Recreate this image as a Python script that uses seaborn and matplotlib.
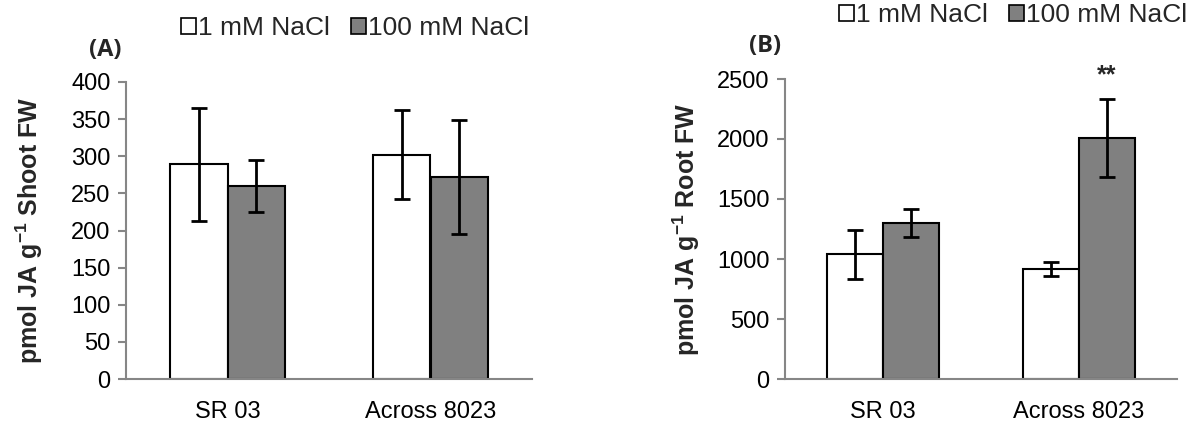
import numpy as np
import pandas as pd
import matplotlib
matplotlib.use("Agg")
import matplotlib.pyplot as plt
from matplotlib.patches import Patch
import seaborn as sns

categories = ["SR 03", "Across 8023"]
treatments = ["1 mM NaCl", "100 mM NaCl"]

shoot_1mM = [289, 302]
shoot_1mM_err = [76, 60]
shoot_100mM = [260, 272]
shoot_100mM_err = [35, 77]

root_1mM = [1040, 915]
root_1mM_err = [205, 60]
root_100mM = [1300, 2005]
root_100mM_err = [120, 325]

colors = ["#ffffff", "#808080"]
spine_col = "#868686"

sns.set_theme(style="white")
plt.rcParams["font.family"] = ["Liberation Sans", "DejaVu Sans"]
plt.rcParams["mathtext.fontset"] = "custom"
plt.rcParams["mathtext.rm"] = "Liberation Sans"
plt.rcParams["mathtext.bf"] = "Liberation Sans:bold"

fig = plt.figure(figsize=(11.93, 4.29), dpi=100)
axA = fig.add_axes([126/1193, 1-379/429, (532-126)/1193, (379-82)/429])
axB = fig.add_axes([785/1193, 1-379/429, (1177-785)/1193, (379-79)/429])


def make_df(v1, e1, v2, e2):
    rows = []
    for i, c in enumerate(categories):
        rows.append({"cat": c, "trt": treatments[0], "val": v1[i], "err": e1[i]})
        rows.append({"cat": c, "trt": treatments[1], "val": v2[i], "err": e2[i]})
    return pd.DataFrame(rows)


def draw(ax, df, ymax, ystep, ylabel, labelpad):
    sns.barplot(data=df, x="cat", y="val", hue="trt", order=categories,
                hue_order=treatments, palette=colors, width=0.57,
                edgecolor="black", linewidth=1.5, errorbar=None, ax=ax,
                legend=False, saturation=1)
    for j, t in enumerate(treatments):
        cont = ax.containers[j]
        sub = df[df.trt == t].set_index("cat").loc[categories]
        xs = [p.get_x() + p.get_width()/2 for p in cont.patches]
        ax.errorbar(xs, sub["val"].values, yerr=sub["err"].values, fmt="none",
                    ecolor="black", elinewidth=2, capsize=5.5, capthick=2, zorder=5)
    ax.set_xlim(-0.5, 1.5)
    ax.set_ylim(0, ymax)
    ax.set_yticks(np.arange(0, ymax + 1, ystep))
    ax.set_xticks([0, 1])
    ax.set_xticklabels(categories)
    ax.set_xticks([-0.5, 0.5, 1.5], minor=True)
    ax.tick_params(axis="x", which="major", length=0, labelsize=17, pad=16, colors="black")
    ax.tick_params(axis="x", which="minor", length=7, width=1.5, color=spine_col, direction="out")
    ax.tick_params(axis="y", which="major", length=6, width=1.5, color=spine_col,
                   direction="out", labelsize=17, pad=5, left=True, labelcolor="black")
    for s in ["top", "right"]:
        ax.spines[s].set_visible(False)
    for s in ["left", "bottom"]:
        ax.spines[s].set_color(spine_col)
        ax.spines[s].set_linewidth(1.5)
    ax.set_xlabel("")
    ax.set_ylabel(ylabel, fontsize=18, fontweight="bold", labelpad=labelpad)
    ax.grid(False)


dfA = make_df(shoot_1mM, shoot_1mM_err, shoot_100mM, shoot_100mM_err)
dfB = make_df(root_1mM, root_1mM_err, root_100mM, root_100mM_err)

draw(axA, dfA, 400, 50, r"pmol JA g$^{\mathbf{-1}}$ Shoot FW", 19)
draw(axB, dfB, 2500, 500, r"pmol JA g$^{\mathbf{-1}}$ Root FW", 11)

handles = [Patch(facecolor=colors[i], edgecolor="black", linewidth=1.2, label=treatments[i])
           for i in range(2)]
legkw = dict(ncol=2, frameon=False, fontsize=19, handlelength=0.55, handleheight=0.55,
             handletextpad=0.1, columnspacing=0.8, borderpad=0, borderaxespad=0)
fig.legend(handles=handles, loc="center left", bbox_to_anchor=(181/1193, 1-28/429), **legkw)
fig.legend(handles=handles, loc="center left", bbox_to_anchor=(839/1193, 1-15/429), **legkw)

fig.text(89/1193, 1-50/429, "(A)", fontsize=17, fontweight="bold", ha="left", va="center",
         family=["Open Sans", "DejaVu Sans"])
fig.text(749/1193, 1-46/429, "(B)", fontsize=17, fontweight="bold", ha="left", va="center",
         family=["Open Sans", "DejaVu Sans"])

pB = axB.containers[1].patches[1]
axB.text(pB.get_x() + pB.get_width()/2, 2530, "**", ha="center", va="center",
         fontsize=18, fontweight="bold", clip_on=False)

fig.savefig("out.png", dpi=100)
